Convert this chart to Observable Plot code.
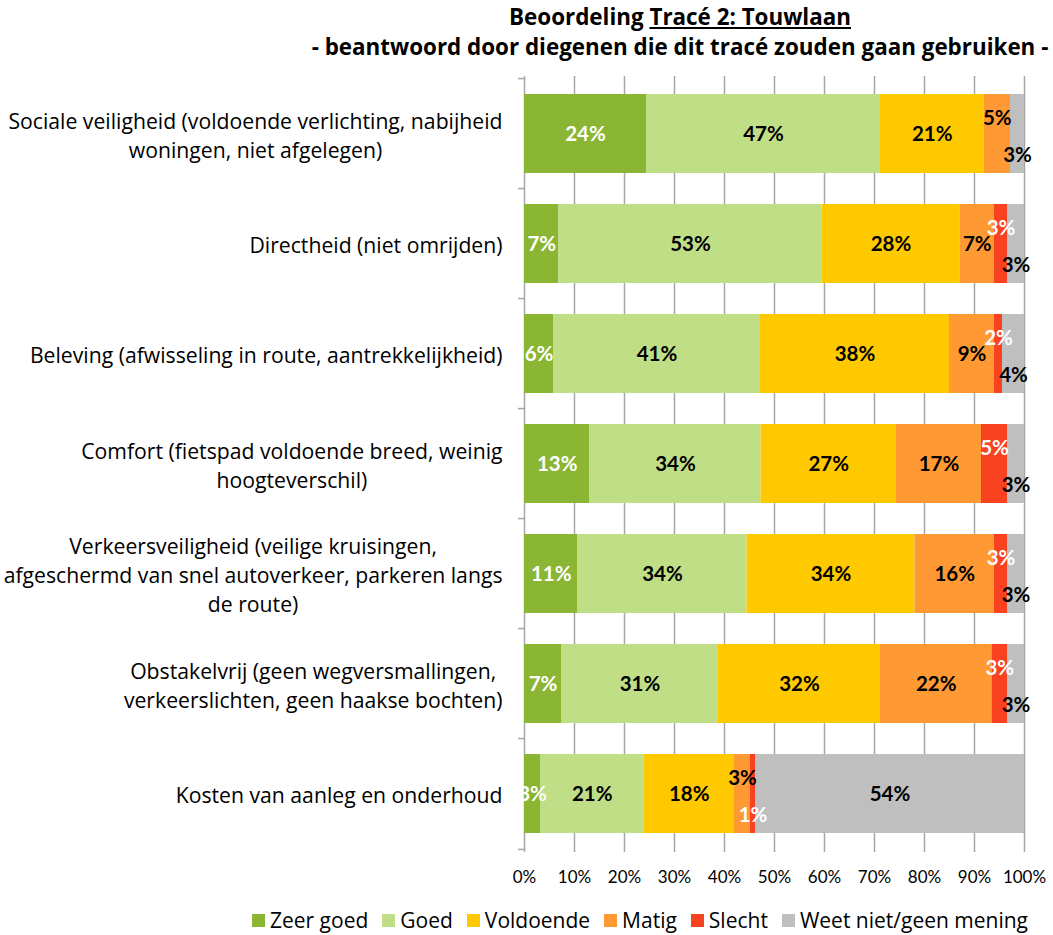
<!DOCTYPE html>
<html><head><meta charset="utf-8">
<script src="https://cdn.jsdelivr.net/npm/d3@7"></script>
<script src="https://cdn.jsdelivr.net/npm/@observablehq/plot@0.6"></script>
<style>
html,body{margin:0;padding:0;background:#fff;}
#wrap{position:relative;width:1053px;height:935px;overflow:hidden;font-family:"Open Sans", sans-serif;color:#000;}
#title{position:absolute;left:180px;width:1000px;top:2px;text-align:center;font-weight:bold;font-size:22.4px;line-height:30px;}
#title u{text-decoration:underline;text-underline-offset:2px;}
#legend{position:absolute;left:147px;width:1000px;top:906px;height:28px;display:flex;justify-content:center;align-items:center;font-size:21px;white-space:nowrap;}
#legend .it{display:flex;align-items:center;margin-right:14px;}
#legend .sw{width:13px;height:13px;margin-right:5px;display:inline-block;}
#chart{position:absolute;left:0;top:0;}
</style></head>
<body><div id="wrap"><div id="title">Beoordeling <u>Tracé 2: Touwlaan</u><br>- beantwoord door diegenen die dit tracé zouden gaan gebruiken -</div><div id="chart"></div><div id="legend"></div></div>
<script>
const categories = [
  "Sociale veiligheid (voldoende verlichting, nabijheid\nwoningen, niet afgelegen)",
  "Directheid (niet omrijden)",
  "Beleving (afwisseling in route, aantrekkelijkheid)",
  "Comfort (fietspad voldoende breed, weinig\nhoogteverschil)",
  "Verkeersveiligheid (veilige kruisingen,\nafgeschermd van snel autoverkeer, parkeren langs\nde route)",
  "Obstakelvrij (geen wegversmallingen,\nverkeerslichten, geen haakse bochten)",
  "Kosten van aanleg en onderhoud"
];
const seriesNames = ["Zeer goed", "Goed", "Voldoende", "Matig", "Slecht", "Weet niet/geen mening"];
const seriesColors = ["#8BB634", "#BFDE86", "#FFC900", "#FF9933", "#F94220", "#BFBFBF"];
const zeerGoed  = [24.4, 6.9, 5.8, 13.1, 10.7, 7.4, 3.2];
const goed      = [46.8, 52.6, 41.4, 34.2, 33.8, 31.4, 20.7];
const voldoende = [20.7, 27.6, 37.8, 27.1, 33.6, 32.4, 18.1];
const matig     = [5.3, 6.9, 9.0, 17.0, 15.9, 22.3, 3.2];
const slecht    = [0, 2.6, 1.6, 5.2, 2.6, 3.1, 1.0];
const weetNiet  = [2.8, 3.4, 4.4, 3.4, 3.4, 3.4, 53.8];
const xTicks = [0, 10, 20, 30, 40, 50, 60, 70, 80, 90, 100];
const whiteLabelSeries = ["Zeer goed", "Slecht"];

const seriesValues = [zeerGoed, goed, voldoende, matig, slecht, weetNiet];
const rows = categories.flatMap((cat, i) => seriesNames.map((s, j) => ({cat, series: s, value: seriesValues[j][i]})));

// Excel-like alternate placement of narrow trailing segments
const smallSeries = ["Matig", "Slecht", "Weet niet/geen mening"];
const place = new Map();
categories.forEach((cat, i) => {
  let k = 0;
  for (const s of smallSeries) {
    const v = seriesValues[seriesNames.indexOf(s)][i];
    if (v > 0 && v < 6) { place.set(cat + "|" + s, k % 2 === 0 ? "up" : "down"); k++; }
  }
});
const placeOf = d => place.get(d.cat + "|" + d.series) || "mid";
const offsets = {up: -16, mid: 0, down: 21};

const W = 1053, H = 935, mL = 524, mR = 29, mT = 76, mB = 83;
const step = (H - mT - mB) / categories.length;
const gridColor = "#A6A6A6";

function labels(pl, color) {
  const isWhite = color === "white";
  return Plot.text(rows, Plot.filter(
    d => d.value > 0 && placeOf(d) === pl && whiteLabelSeries.includes(d.series) === isWhite,
    Plot.stackX({x: "value", y: "cat", z: "series", order: seriesNames,
      text: d => Math.round(d.value) + "%", fill: color, fontWeight: "bold", fontSize: 20.5,
      fontFamily: "Lato, sans-serif", dy: offsets[pl]})
  ));
}

const chart = Plot.plot({
  width: W, height: H, marginLeft: mL, marginRight: mR, marginTop: mT, marginBottom: mB,
  style: {fontFamily: "'Open Sans', sans-serif", background: "transparent", color: "#000"},
  x: {domain: [0, 100]},
  y: {domain: categories, paddingInner: 0.28, paddingOuter: 0.14},
  color: {domain: seriesNames, range: seriesColors},
  marks: [
    Plot.ruleX(xTicks, {stroke: gridColor, strokeWidth: 1.5}),
    Plot.ruleY(categories, {y: d => d, x1: -1.2, x2: 0, dy: -step / 2, stroke: gridColor, strokeWidth: 1.5}),
    Plot.ruleY(categories.slice(-1), {y: d => d, x1: -1.2, x2: 0, dy: step / 2, stroke: gridColor, strokeWidth: 1.5}),
    Plot.barX(rows, Plot.stackX({x: "value", y: "cat", z: "series", fill: "series", order: seriesNames})),
    ...["mid", "up", "down"].flatMap(p => [labels(p, "black"), labels(p, "white")]),
    Plot.axisX({ticks: xTicks, tickFormat: d => d + "%", tickSize: 0, tickPadding: 18, fontSize: 17,
      fontFamily: "Lato, sans-serif", label: null}),
    Plot.axisY({tickSize: 0, tickPadding: 22, fontSize: 21.2, lineHeight: 1.37, label: null})
  ]
});
document.getElementById("chart").appendChild(chart);

// center the lines of each category label inside its own block, block right-aligned
d3.select(chart).selectAll('g[aria-label="y-axis tick label"] text').each(function () {
  const b1 = this.getBBox();
  const right = b1.x + b1.width;
  this.setAttribute("text-anchor", "middle");
  const b2 = this.getBBox();
  const shift = right - (b2.x + b2.width);
  const tspans = this.querySelectorAll("tspan");
  if (tspans.length) tspans.forEach(t => t.setAttribute("x", (parseFloat(t.getAttribute("x")) || 0) + shift));
  else this.setAttribute("x", (parseFloat(this.getAttribute("x")) || 0) + shift);
});

const legend = document.getElementById("legend");
seriesNames.forEach((s, i) => {
  const it = document.createElement("div"); it.className = "it";
  const sw = document.createElement("span"); sw.className = "sw"; sw.style.background = seriesColors[i];
  const tx = document.createElement("span"); tx.textContent = s;
  it.appendChild(sw); it.appendChild(tx); legend.appendChild(it);
});
</script></body></html>
